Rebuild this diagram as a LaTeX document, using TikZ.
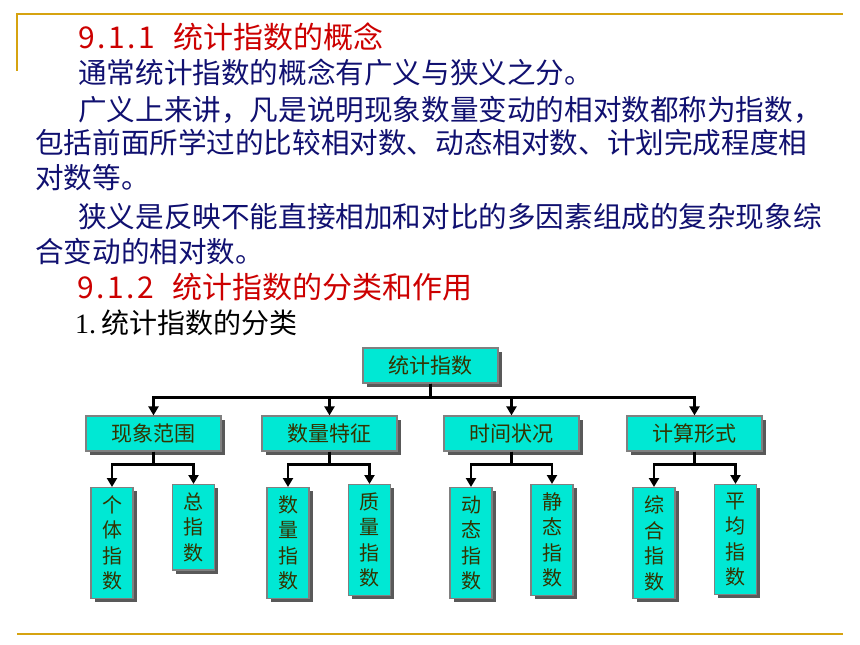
\documentclass[tikz,border=0pt]{standalone}
\usepackage{fontspec}
\setmainfont{Liberation Serif}
\newfontfamily\cjk{Noto Sans CJK SC}
\usetikzlibrary{arrows.meta,shadows}
\definecolor{gold}{RGB}{214,163,16}
\definecolor{titlered}{RGB}{204,0,0}
\definecolor{textblue}{RGB}{16,16,112}
\definecolor{boxcyan}{RGB}{0,232,212}
\definecolor{boxtext}{RGB}{51,51,0}
\newcommand{\cell}[1]{\makebox[15pt]{#1}}

\begin{document}
\begin{tikzpicture}[x=1pt,y=-1pt,
    bodytext/.style={anchor=west,inner sep=0pt,textblue,font=\cjk\fontsize{28.6}{30}\selectfont},
    heading/.style={anchor=west,inner sep=0pt,titlered,font=\cjk\fontsize{30}{32}\selectfont},
    cyanbox/.style={draw=gray,line width=1.2pt,fill=boxcyan,text=boxtext,
      drop shadow={shadow xshift=3.5pt,shadow yshift=-3.5pt,fill=black!65,opacity=1}},
    kindbox/.style={cyanbox,minimum width=135pt,minimum height=35pt,inner sep=0pt,font=\cjk\fontsize{21}{21}\selectfont},
    leafbox/.style={cyanbox,anchor=north,minimum width=42pt,inner xsep=0pt,inner ysep=8pt,align=center,font=\cjk\fontsize{20}{25.5}\selectfont},
    arr/.style={-{Triangle[width=10pt,length=9pt]},line width=2.8pt}]
    \useasboundingbox (0,0) rectangle (860,645);

    % Frame lines
    \draw[gold,line width=2pt] (16,14) -- (843,14);
    \draw[gold,line width=2pt] (17,14) -- (17,71);
    \draw[gold,line width=2pt] (17,634) -- (843,634);

    % Text
    \node[heading] (h1) at (79,37) {\cell{9}\cell{.}\cell{1}\cell{.}\cell{1}\hspace{19pt}统计指数的概念};
    \node[bodytext] (l1) at (78,73) {通常统计指数的概念有广义与狭义之分。};
    \node[bodytext] (l2) at (78,110) {广义上来讲，凡是说明现象数量变动的相对数都称为指数，};
    \node[bodytext] (l3) at (35,143) {包括前面所学过的比较相对数、动态相对数、计划完成程度相};
    \node[bodytext] (l4) at (35,178) {对数等。};
    \node[bodytext] (l5) at (78,217) {狭义是反映不能直接相加和对比的多因素组成的复杂现象综};
    \node[bodytext] (l6) at (35,252) {合变动的相对数。};
    \node[heading] (h2) at (78,287) {\cell{9}\cell{.}\cell{1}\cell{.}\cell{2}\hspace{19pt}统计指数的分类和作用};
    \node[anchor=west,inner sep=0pt,font=\fontsize{28}{30}\selectfont] (h3) at (75,323) {1.\hspace{5pt}{\cjk 统计指数的分类}};

    % Tree
    \node[kindbox] (root) at (430.5,365.5) {统计指数};
    \node[kindbox] (range) at (153.5,433.5) {现象范围};
    \node[kindbox] (feature) at (329.5,433.5) {数量特征};
    \node[kindbox] (period) at (511.5,433.5) {时间状况};
    \node[kindbox] (calc) at (694.5,433.5) {计算形式};

    \node[leafbox] (indiv) at (112,487) {个\\体\\指\\数};
    \node[leafbox] (total) at (193.5,484) {总\\指\\数};
    \node[leafbox] (quant) at (288,487) {数\\量\\指\\数};
    \node[leafbox] (qual) at (369.5,484) {质\\量\\指\\数};
    \node[leafbox] (dyn) at (471,487) {动\\态\\指\\数};
    \node[leafbox] (stat) at (552,484) {静\\态\\指\\数};
    \node[leafbox] (comp) at (654,487) {综\\合\\指\\数};
    \node[leafbox] (avg) at (735.5,484) {平\\均\\指\\数};

    % Arrows
    \foreach \kid in {range,feature,period,calc}
      \draw[arr] (root.south) -- ++(0,14) -| (\kid.north);
    \foreach \top/\left/\right in {range/indiv/total,feature/quant/qual,period/dyn/stat,calc/comp/avg} {
      \draw[arr] (\top.south) -- ++(0,13) -| (\left.north);
      \draw[arr] (\top.south) -- ++(0,13) -| (\right.north);
    }
\end{tikzpicture}
\end{document}
